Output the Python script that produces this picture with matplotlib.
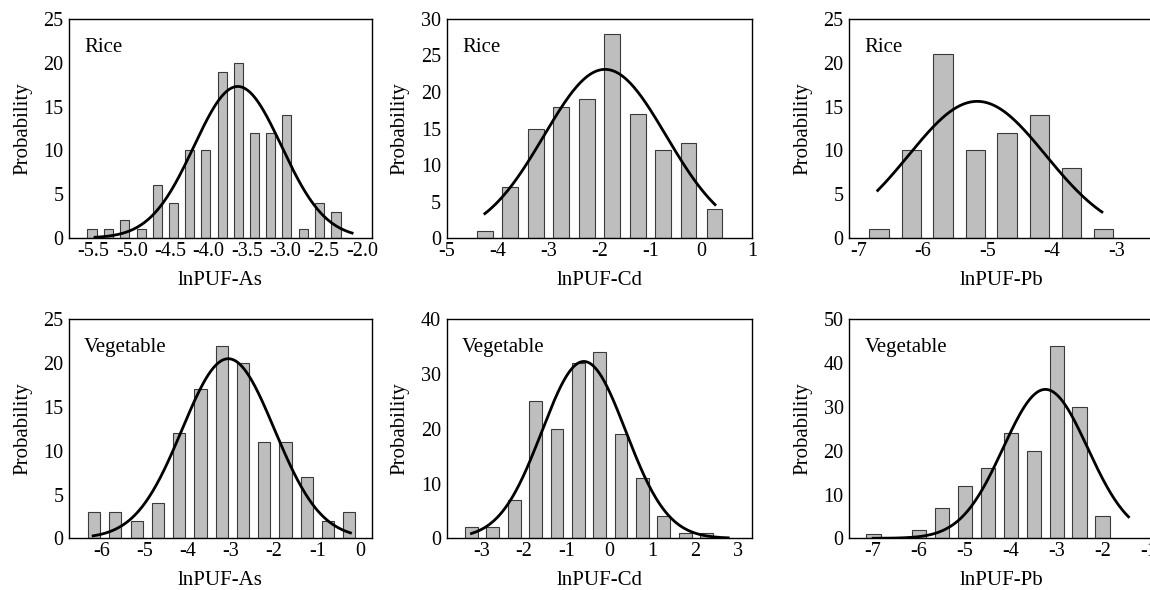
import numpy as np
import matplotlib
matplotlib.use("Agg")
import matplotlib.pyplot as plt

plt.rcParams['font.family'] = ['Liberation Serif', 'DejaVu Serif']
plt.rcParams['axes.unicode_minus'] = False

# bin centres and counts
as_rice_x = [-5.52, -5.31, -5.10, -4.88, -4.67, -4.46, -4.25, -4.04,
             -3.82, -3.61, -3.40, -3.19, -2.98, -2.76, -2.55, -2.34]
as_rice_y = [1, 1, 2, 1, 6, 4, 10, 10, 19, 20, 12, 12, 14, 1, 4, 3]

cd_rice_x = [-4.25, -3.75, -3.25, -2.75, -2.25, -1.75, -1.25, -0.75, -0.25, 0.26]
cd_rice_y = [1, 7, 15, 18, 19, 28, 17, 12, 13, 4]

pb_rice_x = [-6.68, -6.18, -5.69, -5.19, -4.70, -4.20, -3.70, -3.21]
pb_rice_y = [1, 10, 21, 10, 12, 14, 8, 1]

as_veg_x = [-6.17, -5.68, -5.18, -4.69, -4.20, -3.70, -3.21,
            -2.72, -2.23, -1.73, -1.24, -0.75, -0.26]
as_veg_y = [3, 3, 2, 4, 12, 17, 22, 20, 11, 11, 7, 2, 3]

cd_veg_x = [-3.23, -2.73, -2.23, -1.73, -1.23, -0.73, -0.23, 0.27, 0.77, 1.27, 1.77, 2.27]
cd_veg_y = [2, 2, 7, 25, 20, 32, 34, 19, 11, 4, 1, 1]

pb_veg_x = [-7.0, -6.0, -5.5, -5.0, -4.5, -4.0, -3.5, -3.0, -2.5, -2.0]
pb_veg_y = [1, 2, 7, 12, 16, 24, 20, 44, 30, 5]

# fitted normal curves: mean, sd, peak height, drawn range
as_rice_fit = (-3.62, 0.57, 17.3, -5.48, -2.13)
cd_rice_fit = (-1.89, 1.20, 23.1, -4.25, 0.27)
pb_rice_fit = (-5.16, 1.06, 15.6, -6.70, -3.23)
as_veg_fit = (-3.06, 1.07, 20.5, -6.19, -0.23)
cd_veg_fit = (-0.60, 0.98, 32.3, -3.23, 2.78)
pb_veg_fit = (-3.25, 0.92, 34.0, -7.00, -1.44)

labels = ["Rice", "Rice", "Rice", "Vegetable", "Vegetable", "Vegetable"]
xlabels = ["lnPUF-As", "lnPUF-Cd", "lnPUF-Pb", "lnPUF-As", "lnPUF-Cd", "lnPUF-Pb"]

panels = [
    (as_rice_x, as_rice_y, as_rice_fit, 0.12, (-5.82, -1.87), [-5.5, -5.0, -4.5, -4.0, -3.5, -3.0, -2.5, -2.0], 25, 5),
    (cd_rice_x, cd_rice_y, cd_rice_fit, 0.31, (-5.0, 1.0), [-5, -4, -3, -2, -1, 0, 1], 30, 5),
    (pb_rice_x, pb_rice_y, pb_rice_fit, 0.30, (-7.14, -2.42), [-7, -6, -5, -4, -3], 25, 5),
    (as_veg_x, as_veg_y, as_veg_fit, 0.29, (-6.75, 0.27), [-6, -5, -4, -3, -2, -1, 0], 25, 5),
    (cd_veg_x, cd_veg_y, cd_veg_fit, 0.30, (-3.81, 3.34), [-3, -2, -1, 0, 1, 2, 3], 40, 10),
    (pb_veg_x, pb_veg_y, pb_veg_fit, 0.32, (-7.52, -0.88), [-7, -6, -5, -4, -3, -2, -1], 50, 10),
]

fig = plt.figure(figsize=(11.5, 5.9), dpi=100)

lefts = [0.060, 0.3884, 0.7385]
widths = [0.2635, 0.2657, 0.2652]
bottoms = [0.5966, 0.0876]
h = 0.3712

for i, (x, y, fit, bw, xlim, xt, ymax, ystep) in enumerate(panels):
    row, col = i // 3, i % 3
    ax = fig.add_axes([lefts[col], bottoms[row], widths[col], h])
    ax.bar(x, y, width=bw, color='#bebebe', edgecolor='#3a3a3a', linewidth=0.8, zorder=2)

    mu, sd, peak, x0, x1 = fit
    xs = np.linspace(x0, x1, 200)
    ax.plot(xs, peak * np.exp(-(xs - mu) ** 2 / (2 * sd ** 2)), color='black', lw=2.0, zorder=3)

    ax.set_xlim(*xlim)
    ax.set_ylim(0, ymax)
    ax.set_xticks(xt)
    if col == 0 and row == 0:
        ax.set_xticklabels(["%.1f" % v for v in xt])
    ax.set_yticks(np.arange(0, ymax + 1, ystep))
    ax.tick_params(length=0, labelsize=14.5)
    ax.tick_params(axis='x', pad=3)
    ax.tick_params(axis='y', pad=4)
    for s in ax.spines.values():
        s.set_linewidth(1.0)
    ax.set_ylabel("Probability", fontsize=15, labelpad=8)
    ax.set_xlabel(xlabels[i], fontsize=15, labelpad=7)
    ax.text(0.05, 0.85, labels[i], transform=ax.transAxes, fontsize=15, va='baseline')

fig.savefig("out.png", dpi=100)
